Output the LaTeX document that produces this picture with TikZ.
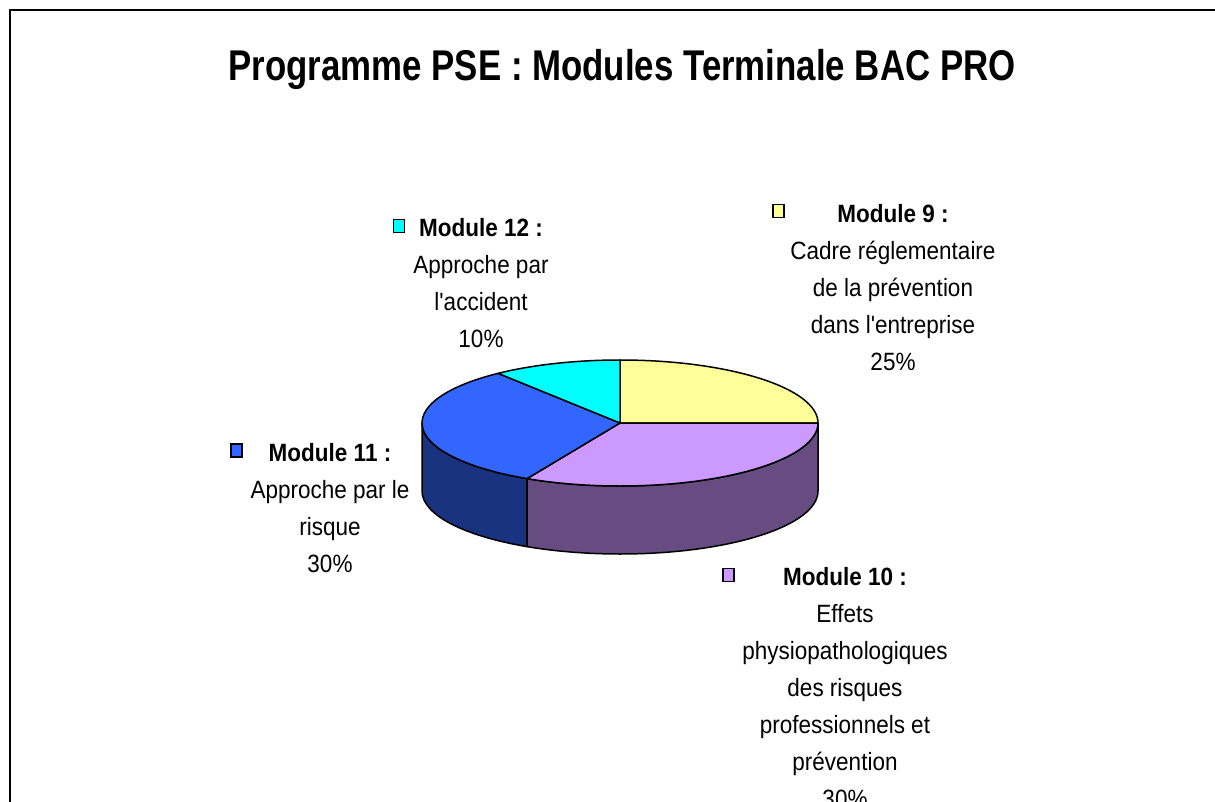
\documentclass[tikz,border=0pt]{standalone}
\usepackage{fontspec}
\newfontfamily\titlefont[FakeStretch=0.81]{Liberation Sans}
\newfontfamily\lblfont[FakeStretch=0.9]{Liberation Sans}
\definecolor{yel}{HTML}{FFFF99}
\definecolor{pur}{HTML}{CC99FF}
\definecolor{blu}{HTML}{3366FF}
\definecolor{cya}{HTML}{00FFFF}
\definecolor{sideblue}{HTML}{1A3380}
\definecolor{sidepurple}{HTML}{664C80}
\begin{document}
\begin{tikzpicture}[x=1pt,y=-1pt,
  lbl/.style={font=\lblfont\fontsize{25}{37}\selectfont, align=center, inner sep=0pt, anchor=base},
  keybox/.style={draw=black, line width=1.2pt, minimum width=11pt, minimum height=13pt, inner sep=0pt},
  slice/.style={draw=black, line width=1.5pt, line join=round},
  pie/.style={x radius=198, y radius=63}]
\useasboundingbox (0,0) rectangle (1215,802);
\clip (0,0) rectangle (1215,802);
\draw[line width=2pt] (10,812) -- (10,10) -- (1225,10);
\node[font=\titlefont\bfseries\fontsize{43}{50}\selectfont, anchor=base, inner sep=0pt] (title) at (622,81) {Programme PSE : Modules Terminale BAC PRO};
% pie
\begin{scope}[shift={(620,423)}, y=1pt]
  \filldraw[slice, fill=sideblue] (180:198 and 63) arc[start angle=180, end angle=242, pie] -- ++(0,-68) arc[start angle=242, end angle=180, pie] -- cycle;
  \filldraw[slice, fill=sidepurple] (242:198 and 63) arc[start angle=242, end angle=360, pie] -- ++(0,-68) arc[start angle=360, end angle=242, pie] -- cycle;
  \filldraw[slice, fill=yel] (0,0) -- (90:198 and 63) arc[start angle=90, end angle=0, pie] -- cycle;
  \filldraw[slice, fill=pur] (0,0) -- (0:198 and 63) arc[start angle=0, end angle=-118, pie] -- cycle;
  \filldraw[slice, fill=blu] (0,0) -- (-118:198 and 63) arc[start angle=-118, end angle=-232, pie] -- cycle;
  \filldraw[slice, fill=cya] (0,0) -- (128:198 and 63) arc[start angle=128, end angle=90, pie] -- cycle;
\end{scope}
% labels (anchor base = baseline of last line)
\node[keybox, fill=cya] (k12) at (399,226) {};
\node[lbl] (l12) at (481,347) {\textbf{Module 12 :}\\Approche par\\l'accident\\10\%};
\node[keybox, fill=yel] (k9) at (778.5,211) {};
\node[lbl] (l9) at (893,370) {\textbf{Module 9 :}\\Cadre réglementaire\\de la prévention\\dans l'entreprise\\25\%};
\node[keybox, fill=blu] (k11) at (236.5,450.5) {};
\node[lbl] (l11) at (330,572) {\textbf{Module 11 :}\\Approche par le\\risque\\30\%};
\node[keybox, fill=pur] (k10) at (728.5,575) {};
\node[lbl] (l10) at (845,807) {\textbf{Module 10 :}\\Effets\\physiopathologiques\\des risques\\professionnels et\\prévention\\30\%};
\end{tikzpicture}
\end{document}
